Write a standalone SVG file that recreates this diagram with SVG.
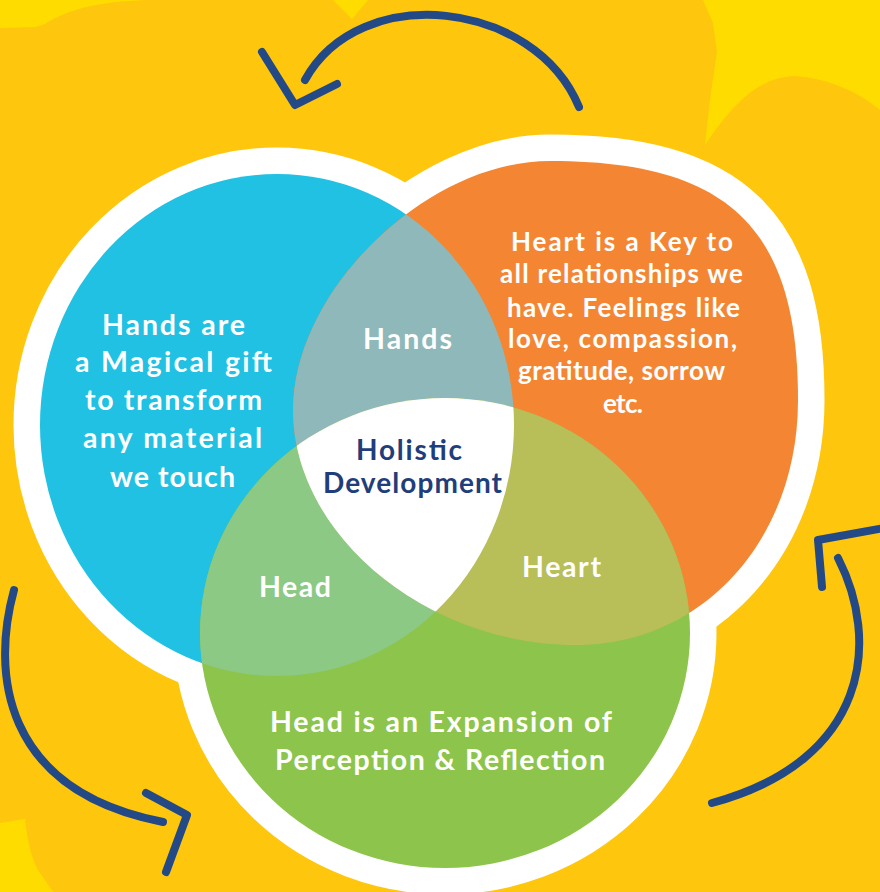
<svg xmlns="http://www.w3.org/2000/svg" xmlns:xlink="http://www.w3.org/1999/xlink" width="880" height="892" viewBox="0 0 880 892">
<style>
.t{font-family:Lato,"Open Sans","Liberation Sans",sans-serif;font-weight:700;fill:#ffffff}
.navy{fill:#1F3E7B}
.arrow{fill:none;stroke:#234A86;stroke-width:8;stroke-linecap:round;stroke-linejoin:round}
.outer{fill:#ffffff;stroke:#ffffff;stroke-width:53;stroke-linejoin:round}
</style>
<defs>
<ellipse id="eBlue" cx="277" cy="425" rx="237" ry="251"/>
<path id="eOrange" d="M550,161 C728.6,161 798,228 798,400 C798,539.7 702.5,645 576,645 C426,645 293,534.6 293,410 C293,290.5 426.6,161 550,161 Z"/>
<ellipse id="eGreen" cx="445" cy="633" rx="245" ry="235"/>
<clipPath id="cBlue"><use xlink:href="#eBlue"/></clipPath>
<clipPath id="cOrange"><use xlink:href="#eOrange"/></clipPath>
</defs>
<g id="background">
<rect width="880" height="892" fill="#FEC70D"/>
<path d="M0,0 L145,0 C100,2 70,8 45,24 L35,27 L0,28 Z" fill="#FFDC00"/>
<path d="M333,0 L368,0 L352,19 Z" fill="#FFDC00"/>
<path d="M703,0 L880,0 L880,110 C860,93 830,78 793,76 C760,78 735,100 705,145 L710,100 L717,52 L713,23 Z" fill="#FFDC00"/>
<path d="M0,823 L25,819 C27,840 32,862 40,873 L53,892 L0,892 Z" fill="#FFDC00"/>
</g>
<g id="outline">
<use xlink:href="#eBlue" class="outer"/>
<use xlink:href="#eOrange" class="outer"/>
<use xlink:href="#eGreen" class="outer"/>
</g>
<g id="node-hands">
<use xlink:href="#eBlue" fill="#20C1E3"/>
</g>
<g id="node-heart">
<use xlink:href="#eOrange" fill="#F48633"/>
</g>
<g id="node-head">
<use xlink:href="#eGreen" fill="#8DC44B"/>
</g>
<g id="overlap-hands">
<use xlink:href="#eOrange" clip-path="url(#cBlue)" fill="#8EB8B9"/>
</g>
<g id="overlap-head">
<use xlink:href="#eGreen" clip-path="url(#cBlue)" fill="#8BC984"/>
</g>
<g id="overlap-heart">
<use xlink:href="#eGreen" clip-path="url(#cOrange)" fill="#B8BE58"/>
</g>
<g id="center" clip-path="url(#cBlue)">
<use xlink:href="#eGreen" clip-path="url(#cOrange)" fill="#ffffff"/>
</g>
<g id="labels" font-size="28.5">
<text class="t" x="102" y="335" textLength="143" lengthAdjust="spacing">Hands are</text>
<text class="t" x="75" y="372" textLength="197" lengthAdjust="spacing">a Magical gift</text>
<text class="t" x="85" y="410" textLength="177" lengthAdjust="spacing">to transform</text>
<text class="t" x="83" y="448" textLength="179" lengthAdjust="spacing">any material</text>
<text class="t" x="110" y="487" textLength="125" lengthAdjust="spacing">we touch</text>
<text class="t" font-size="26" x="511" y="251" textLength="222" lengthAdjust="spacing">Heart is a Key to</text>
<text class="t" font-size="26" x="500" y="283" textLength="243" lengthAdjust="spacing">all relationships we</text>
<text class="t" font-size="26" x="507" y="317" textLength="233" lengthAdjust="spacing">have. Feelings like</text>
<text class="t" font-size="26" x="508" y="348" textLength="229" lengthAdjust="spacing">love, compassion,</text>
<text class="t" font-size="26" x="518" y="380" textLength="207" lengthAdjust="spacing">gratitude, sorrow</text>
<text class="t" font-size="26" x="603" y="413" textLength="40" lengthAdjust="spacing">etc.</text>
<text class="t" x="270" y="732" textLength="342" lengthAdjust="spacing">Head is an Expansion of</text>
<text class="t" x="275" y="770" textLength="330" lengthAdjust="spacing">Perception &amp; Reflection</text>
<text class="t" x="363" y="349" textLength="89" lengthAdjust="spacing">Hands</text>
<text class="t" x="259" y="597" textLength="72" lengthAdjust="spacing">Head</text>
<text class="t" x="522" y="577" textLength="79" lengthAdjust="spacing">Heart</text>
<text class="t navy" font-size="28" x="356" y="460" textLength="106" lengthAdjust="spacing">Holistic</text>
<text class="t navy" font-size="28" x="323" y="493" textLength="179" lengthAdjust="spacing">Development</text>
</g>
<g id="connectors">
<path class="arrow" d="M579,107 C535,0 360,-20 305,80"/>
<path class="arrow" d="M262,52 L295,105 L337,84"/>
<path class="arrow" d="M838,558 C880,640 870,760 712,803"/>
<path class="arrow" d="M822,587 L818,540 L884,528"/>
<path class="arrow" d="M14,590 C-8,670 0,790 163,822"/>
<path class="arrow" d="M146,793 L187,815 L166,872"/>
</g>
</svg>
